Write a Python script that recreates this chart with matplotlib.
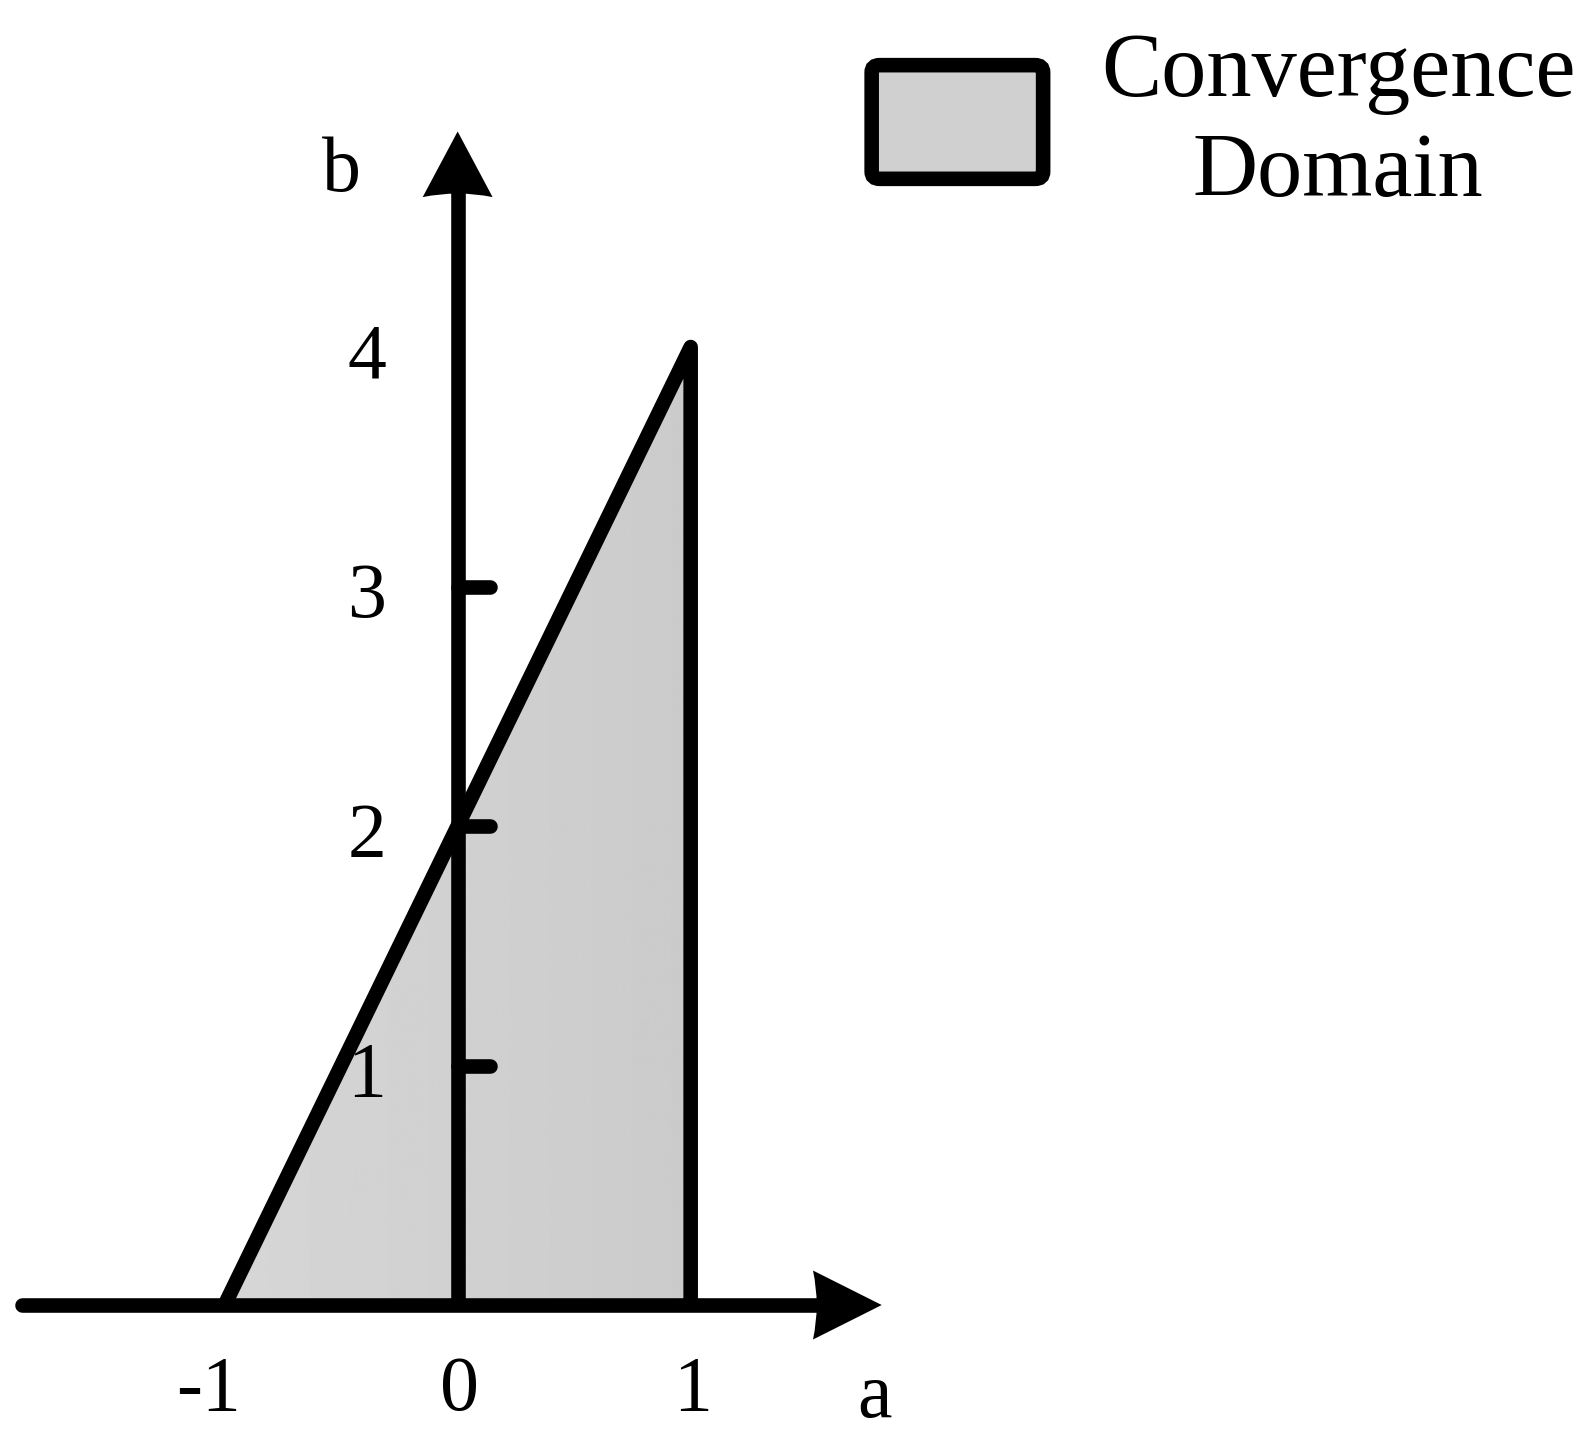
import numpy as np
import matplotlib
matplotlib.use("Agg")
import matplotlib.pyplot as plt
from matplotlib.path import Path
from matplotlib.patches import PathPatch, Polygon, FancyBboxPatch

plt.rcParams['font.family'] = ['Liberation Serif', 'DejaVu Serif']

# convergence domain (triangle) in the (a, b) plane
dom_a = [-1, 1, 1]
dom_b = [0, 4, 0]
a_ticks = [-1, 0, 1]
a_labels = ['-1', '0', '1']
b_ticks = [1, 2, 3, 4]
b_labels = ['1', '2', '3', '4']
b_marks = [1, 2, 3]
legend_label = 'Convergence\nDomain'

lw = 10.5
fig = plt.figure(figsize=(15.95, 14.48), dpi=100)
ax = fig.add_axes([0, 0, 1, 1])
ax.set_xlim(-1.964, 4.881)
ax.set_ylim(-0.597, 5.449)
ax.axis('off')

# gradient fill clipped to triangle
tri = Polygon(np.column_stack([dom_a, dom_b]), closed=True, facecolor='none', edgecolor='none')
ax.add_patch(tri)
grad = np.linspace(0.84, 0.795, 256).reshape(1, -1)
im = ax.imshow(grad, extent=(min(dom_a), max(dom_a), min(dom_b), max(dom_b)),
               cmap='gray', vmin=0, vmax=1, aspect='auto', zorder=1)
im.set_clip_path(tri)

# triangle edges
ax.plot(dom_a, dom_b, color='black', lw=lw, solid_joinstyle='round',
        solid_capstyle='butt', zorder=3)

# axes lines
ax.plot([-1.87, 1.56], [0, 0], color='black', lw=lw, solid_capstyle='round', zorder=3)
ax.plot([0, 0], [0, 4.68], color='black', lw=lw, solid_capstyle='butt', zorder=3)


def head(tip, base, half, depth, vertical):
    # arrow head with concave back
    if vertical:
        verts = [(0, tip), (half, base), (0, base + 2 * depth), (-half, base), (0, tip)]
    else:
        verts = [(tip, 0), (base, half), (base + 2 * depth, 0), (base, -half), (tip, 0)]
    codes = [Path.MOVETO, Path.LINETO, Path.CURVE3, Path.CURVE3, Path.CLOSEPOLY]
    ax.add_patch(PathPatch(Path(verts, codes), facecolor='black', edgecolor='none', zorder=4))


head(4.90, 4.626, 0.150, 0.015, True)
head(1.82, 1.525, 0.144, 0.016, False)

# tick marks on b axis
for t in b_marks:
    ax.plot([0, 0.14], [t, t], color='black', lw=lw, solid_capstyle='round', zorder=3)

fs = 56
for t, s in zip(b_ticks, b_labels):
    ax.text(-0.39, t - 0.05, s, fontsize=fs, ha='center', va='center', zorder=5)
for t, s in zip(a_ticks, a_labels):
    ax.text(t + (-0.07 if t < 0 else 0.01), -0.36, s, fontsize=fs, ha='center', va='center', zorder=5)
ax.text(-0.50, 4.73, 'b', fontsize=fs, ha='center', va='center')
ax.text(1.79, -0.39, 'a', fontsize=fs, ha='center', va='center')

# legend drawn by hand
box = FancyBboxPatch((0.5465, 0.8765), 0.1075, 0.0785, boxstyle='round,pad=0,rounding_size=0.005',
                     transform=ax.transAxes, facecolor='#d0d0d0', edgecolor='black',
                     lw=lw, zorder=5)
ax.add_patch(box)
ax.text(0.839, 0.9145, legend_label, transform=ax.transAxes, fontsize=65,
        ha='center', va='center', linespacing=1.27)

fig.savefig('out.png', dpi=100)
